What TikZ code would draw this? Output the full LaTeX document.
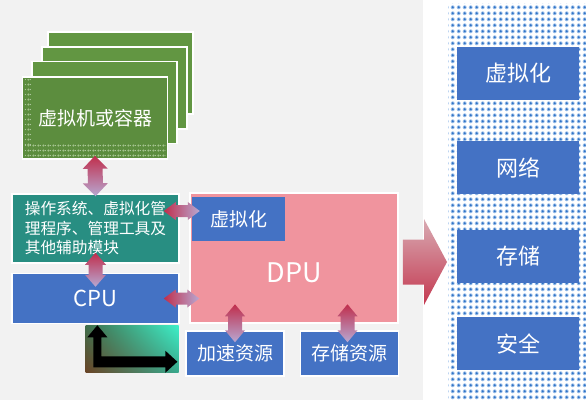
\documentclass[tikz,border=0pt]{standalone}
\usepackage{fontspec}
\setmainfont{Noto Sans CJK SC}
\usepackage{xcolor}
\usetikzlibrary{positioning,calc,patterns.meta,shadings}

\definecolor{bggray}{HTML}{F2F2F2}
\definecolor{vmgreen}{HTML}{629642}
\definecolor{osteal}{HTML}{288E82}
\definecolor{boxblue}{HTML}{4472C4}
\definecolor{dpupink}{HTML}{F0949E}
\definecolor{arrred}{HTML}{C02E4C}
\definecolor{arrlav}{HTML}{B8A8D2}
\definecolor{bigtop}{HTML}{D8AAB2}
\definecolor{bigbot}{HTML}{C43850}
\definecolor{dotcore}{HTML}{2F72C4}
\definecolor{dotring}{HTML}{9CC0EA}
\definecolor{vmdot}{HTML}{A2C28A}
\definecolor{iconll}{HTML}{6A4426}
\definecolor{iconur}{HTML}{3EEFC8}
\definecolor{iconul}{HTML}{3F6E4C}
\definecolor{iconlr}{HTML}{38A88C}

\tikzdeclarepattern{
  name=bluedots,
  type=colored,
  bottom left={(0pt,0pt)},
  top right={(5.7pt,5.7pt)},
  tile size={(5.7pt,5.7pt)},
  code={
    \fill[dotring] (2.85pt,2.85pt) circle (2.1pt);
    \fill[dotcore] (2.85pt,2.85pt) circle (1.15pt);
  }
}
\tikzdeclarepattern{
  name=vmdots,
  type=colored,
  bottom left={(0pt,0pt)},
  top right={(5.4pt,5.4pt)},
  tile size={(5.4pt,5.4pt)},
  code={
    \fill[vmdot] (2.7pt,2.7pt) circle (1.3pt);
  }
}

% fat double arrow: tip a, tip b, head half width, shaft half width, head length, shading
\newcommand{\fatdbl}[6]{%
  \coordinate (fa) at (#1);
  \coordinate (fb) at (#2);
  \shade[#6] (fa) -- ($(fa)!#5pt!(fb)!#3pt!90:(fb)$) -- ($(fa)!#5pt!(fb)!#4pt!90:(fb)$)
    -- ($(fb)!#5pt!(fa)!#4pt!-90:(fa)$) -- ($(fb)!#5pt!(fa)!#3pt!-90:(fa)$) -- (fb)
    -- ($(fb)!#5pt!(fa)!#3pt!90:(fa)$) -- ($(fb)!#5pt!(fa)!#4pt!90:(fa)$)
    -- ($(fa)!#5pt!(fb)!#4pt!-90:(fb)$) -- ($(fa)!#5pt!(fb)!#3pt!-90:(fb)$) -- cycle;
}

\begin{document}
\begin{tikzpicture}[x=1pt, y=-1pt,
    box/.style={rectangle, draw=white, line width=1.5pt, text=white, inner sep=0pt},
    vmbox/.style={box, fill=vmgreen, minimum width=145pt, minimum height=82pt},
    bluebox/.style={box, fill=boxblue},
    sidebox/.style={rectangle, fill=boxblue, text=white, minimum width=122pt, minimum height=53pt,
      font=\fontsize{22}{26}\selectfont},
    vshade/.style={top color=arrred, bottom color=arrlav},
    hshade/.style={left color=arrred, right color=arrlav}]

    \useasboundingbox (0,0) rectangle (586,400);
    \fill[bggray] (0,0) rectangle (586,400);
    \fill[white] (423,0) rectangle (586,400);

    % right panel
    \node[rectangle, inner sep=0pt, anchor=north west, minimum width=138pt, minimum height=397pt,
      pattern=bluedots] (dots) at (448,3) {};
    \node[sidebox] (r1) at (518,73.5) {虚拟化};
    \node[sidebox, below=41pt of r1] (r2) {网络};
    \node[sidebox, below=35pt of r2] (r3) {存储};
    \node[sidebox, below=34pt of r3] (r4) {安全};

    % vm stack
    \node[vmbox] (vm3) at (120.5,73) {};
    \node[vmbox] (vm2) at (114.5,88) {};
    \node[vmbox] (vm1) at (104.5,102.5) {};
    \node[vmbox, fill=vmgreen!94!black] (vm) at (95,118) {};
    \fill[pattern=vmdots] ($(vm.south west)+(3,-15)$) rectangle ($(vm.south east)+(-3,-2)$);
    \fill[pattern=vmdots] ($(vm.north west)+(3,3)$) rectangle ($(vm.south west)+(9,-15)$);
    \node[text=white, font=\fontsize{19}{23}\selectfont] (vmtxt) at (vm.center) {虚拟机或容器};

    % host side
    \node[box, fill=osteal, minimum width=167pt, minimum height=69pt, align=left,
      font=\fontsize{15.7}{19.5}\selectfont] (os) at (95.5,228.5)
      {操作系统、虚拟化管\\理程序、管理工具及\\其他辅助模块};
    \node[bluebox, minimum width=167pt, minimum height=50pt, below=9pt of os,
      font=\fontsize{22}{26}\selectfont] (cpu) {CPU};
    \node[rectangle, inner sep=0pt, anchor=north east, minimum width=93pt, minimum height=47pt,
      lower left=iconll, upper right=iconur, upper left=iconul, lower right=iconlr]
      (icon) at ([xshift=-1pt, yshift=-1pt]cpu.south east) {};
    \begin{scope}[shift={(icon.north west)}]
      \fill[black] (12,0) -- (22,12) -- (16,12) -- (16,31) -- (80,31) -- (80,25.5) -- (92,36.5)
        -- (80,47.5) -- (80,42) -- (8,42) -- (8,12) -- (2,12) -- cycle;
    \end{scope}

    % dpu side
    \node[box, fill=dpupink, minimum width=208pt, minimum height=130pt] (dpu) at (294,258) {};
    \node[text=white, font=\fontsize{27}{32}\selectfont] (dputxt) at ([yshift=-15pt]dpu.center) {DPU};
    \node[rectangle, fill=boxblue, text=white, minimum width=93pt, minimum height=44pt,
      font=\fontsize{19}{23}\selectfont] (virt) at (238.5,219) {虚拟化};
    \node[bluebox, minimum width=98pt, minimum height=45pt, font=\fontsize{19}{23}\selectfont]
      (acc) at (235,353.5) {加速资源};
    \node[bluebox, minimum width=98pt, minimum height=45pt, font=\fontsize{19}{23}\selectfont,
      right=15pt of acc] (sto) {存储资源};

    % connectors
    \fatdbl{$(vm.south)+(0,-4)$}{$(os.north)+(0,3)$}{12.5}{7.5}{13}{vshade}
    \fatdbl{$(os.south)+(0,-11)$}{$(cpu.north)+(0,14)$}{10.5}{7}{12}{vshade}
    \fatdbl{$(os.east|-virt.west)+(-16,-8)$}{$(virt.west)+(8,-8)$}{9}{6}{12}{hshade}
    \fatdbl{$(cpu.east)+(-16,0)$}{$(dpu.west|-cpu.east)+(10,0)$}{9}{6}{12}{hshade}
    \fatdbl{$(acc.north)+(0,-26)$}{$(acc.north)+(0,12)$}{10}{7}{12}{vshade}
    \fatdbl{$(sto.north)+(-2,-26)$}{$(sto.north)+(-2,12)$}{10}{7}{12}{vshade}

    \coordinate (ta) at ($(dpu.east)+(4,4)$);
    \coordinate (tb) at ($(dots.west|-ta)+(-1,0)$);
    \shade[top color=bigtop, bottom color=bigbot] ($(ta)+(0,-22.5)$) -- ($(tb)+(-23,-22.5)$)
      -- ($(tb)+(-23,-43)$) -- (tb) -- ($(tb)+(-23,43)$) -- ($(tb)+(-23,22.5)$)
      -- ($(ta)+(0,22.5)$) -- cycle;

\end{tikzpicture}
\end{document}
